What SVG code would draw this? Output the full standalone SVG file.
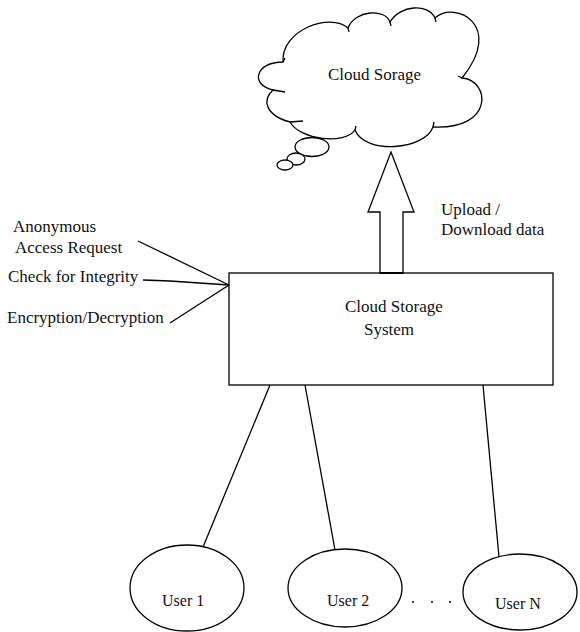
<svg xmlns="http://www.w3.org/2000/svg" width="580" height="632" viewBox="0 0 580 632">
<style>
.s{fill:none;stroke:#000;stroke-width:1.3}
.f{fill:#fff;stroke:#000;stroke-width:1.3}
text{font-family:"Liberation Serif","Times New Roman",serif;font-size:17px;fill:#111}
.u{font-size:16px}
</style>
<rect width="580" height="632" fill="#fff"/>
<g id="cloud">
<path class="f" d="M283,62 C281,30 330,12 348,28 C355,10 385,8 390,22 C400,5 428,3 435,18 C455,0 505,25 462,78 C490,80 495,130 433,127 C425,150 365,155 355,130 C345,145 300,140 290,122 C265,115 262,100 273,90 C250,85 255,62 283,62 Z"/>
<path class="s" d="M283,62 L285,58 M348,28 L349,32 M390,22 L391,26 M435,18 L436,22 M462,78 L458,76 M433,127 L434,122 M355,130 L356,126 M290,122 L303,121 M273,90 L285,92"/>
<ellipse class="f" cx="312" cy="147" rx="17" ry="9.5"/>
<ellipse class="f" cx="296" cy="159" rx="9" ry="6"/>
<ellipse class="f" cx="285" cy="165" rx="8" ry="5"/>
<text x="328" y="80">Cloud Sorage</text>
</g>
<g id="system">
<rect class="f" x="229" y="273" width="324" height="112"/>
<text x="345" y="312">Cloud Storage</text>
<text x="364" y="335">System</text>
</g>
<g id="arrow">
<polygon class="f" points="380,273 380,212 368,212 391,152 414,212 403,212 403,273"/>
<line x1="380" y1="273" x2="403" y2="273" stroke="#000" stroke-width="2"/>
<text x="441" y="215">Upload /</text>
<text x="441" y="235">Download data</text>
</g>
<g id="labels">
<text x="13" y="232">Anonymous</text>
<text x="15" y="253">Access Request</text>
<text x="8" y="282">Check for Integrity</text>
<text x="7" y="323">Encryption/Decryption</text>
</g>
<g id="user1">
<ellipse class="f" cx="187" cy="588" rx="57" ry="43"/>
<text class="u" x="162" y="606">User 1</text>
</g>
<g id="user2">
<ellipse class="f" cx="345" cy="588" rx="57" ry="39"/>
<text class="u" x="327" y="606">User 2</text>
</g>
<g id="userN">
<ellipse class="f" cx="520" cy="592" rx="57" ry="38"/>
<text class="u" x="495" y="609">User N</text>
</g>
<g id="dots" fill="#000">
<circle cx="413" cy="602" r="1"/>
<circle cx="432" cy="602" r="1"/>
<circle cx="450" cy="602" r="1"/>
</g>
<g id="connectors" class="s">
<line x1="138" y1="241" x2="229" y2="285"/>
<polyline points="143,280 170,281 229,285"/>
<line x1="170" y1="323" x2="229" y2="285"/>
<line x1="270" y1="385" x2="203" y2="547"/>
<line x1="305" y1="385" x2="335" y2="550"/>
<line x1="483" y1="385" x2="499" y2="557"/>
</g>
</svg>
